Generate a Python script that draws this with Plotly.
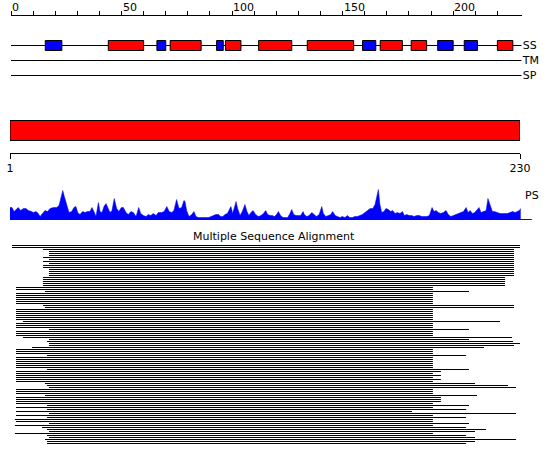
import plotly.graph_objects as go

# ---------------- data ----------------
seq_len = 230
ruler_ticks = list(range(0, 230, 10))
ruler_labels = [0, 50, 100, 150, 200]
tracks = ["SS", "TM", "SP"]

helix_start = [44, 72, 97, 112, 134, 167, 181, 220]
helix_end = [60, 86, 104, 127, 155, 177, 188, 227]
strand_start = [15.5, 66, 93, 159, 193, 205]
strand_end = [23, 70, 96, 165, 200, 211]

domain_start = [1]
domain_end = [230]

ps_res = [1.0, 1.9, 2.8, 4.0, 4.7, 5.8, 7.0, 8.2, 9.2, 10.7, 11.5, 12.7, 13.7, 14.5, 15.7, 16.7, 17.8, 19.0,
          20.5, 22.0, 23.0, 23.9, 24.7, 25.4, 26.5, 27.5, 28.7, 29.7, 30.6, 31.4, 32.4, 33.6, 34.7, 35.7,
          36.9, 37.8, 38.7, 39.6, 40.7, 41.4, 42.3, 43.2, 44.1, 45.0, 45.9, 46.8, 47.8, 48.9, 49.9, 51.0,
          51.9, 53.1, 54.1, 55.3, 56.4, 57.6, 58.8, 59.7, 60.9, 62.1, 63.1, 64.2, 65.3, 66.6, 67.6, 69.1,
          70.2, 71.4, 72.5, 73.6, 74.6, 75.8, 76.9, 78.1, 79.1,
          79.6, 80.3, 81.4, 82.6, 83.6, 84.5, 85.6, 86.8, 87.8, 88.9, 90.1, 91.3, 92.3, 93.4, 94.6, 95.6,
          96.6, 97.5, 98.6, 99.5, 100.2, 101.0, 101.7, 102.5, 103.2, 104.3, 105.3, 106.5, 107.4, 108.3,
          109.2, 110.1, 111.3, 112.5, 113.7, 114.8, 115.8, 116.7, 117.8, 118.8, 119.7, 120.7, 121.5, 122.5,
          123.6, 124.6, 125.7, 126.7, 127.5, 128.4, 129.4, 130.5, 131.5, 132.6, 133.2, 134.2, 135.3, 136.5,
          137.5, 138.6, 139.8, 141.0, 141.7, 142.8, 144.0, 145.0, 145.9, 147.0, 148.0, 149.2, 150.2, 151.4,
          152.5, 153.5, 154.7, 155.9, 157.0, 158.2, 159.2, 160.4, 161.6,
          162.7, 163.9, 164.9, 165.6, 166.4, 167.1, 167.9, 168.9, 169.8, 170.9, 171.9, 172.8, 173.9, 174.9,
          176.1, 177.2, 178.1, 179.1, 180.3, 181.4, 182.4, 183.6, 184.8, 185.9, 186.9, 188.1, 189.3, 190.5,
          191.4, 192.3, 193.3, 194.4, 195.6, 196.8, 197.8, 198.9, 200.1, 201.3, 202.3, 203.4, 204.6, 205.8,
          206.7, 207.6, 208.6, 209.7, 210.6, 211.6, 212.5, 213.6, 214.8, 215.6, 216.5, 217.6, 218.6, 219.8,
          221.0, 222.2, 223.3, 224.3, 225.5, 226.7, 227.8, 228.8, 229.7, 230.3]
ps_val = [12, 12, 8, 10, 12, 9, 11, 11, 9, 8, 7, 8, 6, 3, 7, 9, 8, 11,
          12, 12, 14, 22, 29, 23, 14, 7, 8, 12, 13, 7, 5, 8, 7, 8,
          8, 12, 8, 3, 17, 8, 7, 13, 16, 11, 7, 9, 21, 11, 8, 12,
          12, 7, 5, 8, 7, 3, 12, 6, 4, 3, 5, 4, 6, 4, 7, 7,
          8, 13, 8, 7, 9, 20, 11, 12, 19,
          18, 9, 3, 5, 8, 3, 2, 2, 2, 2, 2, 3, 4, 5, 5, 3,
          3, 5, 6, 11, 13, 6, 13, 18, 11, 4, 8, 15, 8, 4,
          7, 9, 5, 3, 4, 6, 9, 5, 4, 4, 3, 5, 8, 4,
          2, 2, 2, 6, 10, 5, 4, 4, 4, 8, 5, 3, 4, 7,
          5, 3, 5, 13, 6, 3, 4, 5, 8, 4, 3, 2, 3, 2,
          4, 2, 2, 3, 3, 4, 5, 7, 9,
          11, 11, 15, 22, 30, 15, 7, 8, 11, 10, 8, 9, 6, 7,
          6, 8, 4, 5, 4, 4, 3, 4, 4, 3, 3, 3, 4, 12,
          8, 9, 7, 6, 7, 9, 5, 3, 4, 5, 6, 7, 8, 12,
          7, 9, 6, 7, 10, 12, 7, 8, 9, 21, 14, 8, 8, 7,
          6, 6, 6, 6, 7, 8, 7, 8, 9, 11]
ps_axis_end = 235.3

msa_start = [
    1.9, 1.9, 15.8, 18.5, 18.5, 18.5, 15.8, 18.5, 15.8, 18.5,
    15.8, 15.8, 18.5, 18.5, 18.5, 18.5, 15.8, 15.8, 15.8, 15.8,
    15.8, 3.7, 3.7, 16.7, 3.7, 3.7, 3.7, 3.7, 3.7, 3.7,
    15.8, 16.7, 3.7, 3.7, 3.7, 3.7, 3.7, 3.7, 6.8, 3.7,
    3.7, 3.7, 18.5, 3.7, 3.7, 3.7, 6.8, 18.5, 17.6, 18.5,
    18.5, 10.9, 3.7, 3.7, 3.7, 17.6, 3.7, 3.7, 3.7, 3.7,
    3.7, 3.7, 17.6, 3.7, 3.7, 3.7, 3.7, 3.7, 3.7, 16.7,
    17.6, 18.5, 3.7, 3.7, 3.7, 16.7, 3.7, 3.7, 3.7, 3.7,
    17.6, 3.7, 17.6, 3.7, 18.5, 3.7, 17.6, 3.2, 3.7, 18.5,
    3.2, 15.4, 17.6, 18.5, 3.2, 17.6, 18.5, 16.7, 17.6, 17.6]
msa_end = [
    230.0, 230.0, 227.3, 227.3, 227.3, 227.3, 227.3, 227.3, 227.3, 227.3,
    227.3, 227.3, 227.3, 227.3, 227.3, 227.3, 223.3, 223.3, 223.3, 223.3,
    223.3, 190.9, 190.9, 207.1, 190.9, 190.9, 190.9, 190.9, 190.9, 190.9,
    227.3, 227.3, 190.9, 190.9, 190.9, 190.9, 190.9, 190.9, 221.0, 190.9,
    190.9, 190.9, 207.1, 190.9, 190.9, 190.9, 226.4, 207.1, 226.9, 230.0,
    227.3, 213.8, 190.9, 190.9, 190.9, 205.8, 190.9, 190.9, 190.9, 190.9,
    190.9, 190.9, 207.1, 194.5, 190.9, 194.5, 190.9, 194.5, 190.9, 209.8,
    224.6, 228.2, 190.9, 190.9, 190.9, 210.7, 194.5, 194.5, 194.5, 190.9,
    207.1, 190.9, 205.8, 181.5, 228.2, 190.9, 205.8, 190.9, 190.9, 207.1,
    190.9, 205.8, 214.7, 209.8, 190.9, 205.8, 209.8, 228.2, 209.8, 205.8]

# ---------------- layout helpers ----------------
W, H = 550, 465
FONT = "DejaVu Sans"


def py(px):
    return 1 - px / H


fig = go.Figure()

# --- SS / TM / SP tracks ---
for i, t in enumerate(tracks):
    fig.add_shape(type="line", xref="x", yref="y", x0=0, x1=seq_len + 1, y0=i, y1=i,
                  line=dict(color="black", width=1), layer="below")

fig.add_trace(go.Bar(orientation="h", y=[0] * len(helix_start), base=helix_start,
                     x=[e - s for s, e in zip(helix_start, helix_end)], width=0.667,
                     marker=dict(color="#ff0000", line=dict(color="black", width=1)),
                     xaxis="x", yaxis="y"))
fig.add_trace(go.Bar(orientation="h", y=[0] * len(strand_start), base=strand_start,
                     x=[e - s for s, e in zip(strand_start, strand_end)], width=0.667,
                     marker=dict(color="#0000ff", line=dict(color="black", width=1)),
                     xaxis="x", yaxis="y"))

# --- domain bar ---
fig.add_trace(go.Bar(orientation="h", y=[0], base=domain_start,
                     x=[e - s for s, e in zip(domain_start, domain_end)], width=1,
                     marker=dict(color="#ff0000", line=dict(color="black", width=1)),
                     xaxis="x2", yaxis="y2"))

# --- PS profile ---
fig.add_trace(go.Scatter(x=[ps_res[0], ps_axis_end], y=[0, 0], mode="lines",
                         line=dict(color="#0000ff", width=1), xaxis="x3", yaxis="y3"))
fig.add_trace(go.Scatter(x=ps_res, y=ps_val, mode="lines", fill="tozeroy",
                         fillcolor="#0000ff", line=dict(color="#0000ff", width=0.5),
                         xaxis="x3", yaxis="y3"))

# --- MSA ---
fig.add_trace(go.Bar(orientation="h", y=list(range(len(msa_start))), base=msa_start,
                     x=[e - s for s, e in zip(msa_start, msa_end)], width=0.5,
                     marker=dict(color="black", line=dict(width=0)),
                     xaxis="x4", yaxis="y4"))

# bottom scale: residue 1 at 10px, 230 at 520px
ppr = 510 / 229
r0 = 1 - 10 / ppr
r1 = r0 + W / ppr

annotations = []
for v in ruler_labels:
    annotations.append(dict(x=v, y=py(16), xref="x", yref="paper", text=str(v),
                            showarrow=False, xanchor="left", yanchor="bottom",
                            font=dict(size=11, family=FONT, color="black"), borderpad=0, yshift=1))
annotations.append(dict(x=seq_len + 1.5, y=24, xref="x3", yref="y3", text="PS", showarrow=False,
                        xanchor="left", yanchor="middle",
                        font=dict(size=11, family=FONT, color="black")))
annotations.append(dict(x=274 / W, y=py(236), xref="paper", yref="paper",
                        text="Multiple Sequence Alignment", showarrow=False,
                        xanchor="center", yanchor="middle",
                        font=dict(size=11, family=FONT, color="black")))

hidden = dict(visible=False, showgrid=False, zeroline=False, fixedrange=True, automargin=False)

fig.update_layout(
    template="none",
    width=W, height=H, margin=dict(l=0, r=0, t=0, b=0, pad=0, autoexpand=False),
    paper_bgcolor="white", plot_bgcolor="rgba(0,0,0,0)",
    showlegend=False, barmode="overlay", hovermode=False,
    font=dict(family=FONT, size=11, color="black"),
    xaxis=dict(domain=[11 / W, 521.7 / W], range=[0, seq_len + 1], anchor="y", side="top",
               showline=True, linecolor="black", linewidth=1, ticks="outside", ticklen=4,
               tickcolor="black", tickwidth=1, tickvals=ruler_ticks, showticklabels=False,
               showgrid=False, zeroline=False, fixedrange=True, automargin=False),
    yaxis=dict(domain=[py(91), py(16)], range=[3.0333, -1.9667], anchor="x", side="right",
               tickvals=[0, 1, 2], ticktext=tracks, ticks="", showline=False,
               showgrid=False, zeroline=False, fixedrange=True, automargin=False,
               tickfont=dict(size=11, family=FONT, color="black")),
    xaxis2=dict(domain=[10 / W, 520 / W], range=[1, seq_len], anchor="y2", side="bottom",
                showline=True, linecolor="black", linewidth=1, ticks="outside", ticklen=5,
                tickcolor="black", tickvals=[1, seq_len], ticktext=["1", str(seq_len)],
                tickfont=dict(size=11, family=FONT, color="black"),
                showgrid=False, zeroline=False, fixedrange=True, automargin=False),
    yaxis2=dict(domain=[py(153), py(110)], range=[-1.125, 1.025], anchor="x2", **hidden),
    xaxis3=dict(domain=[0, 1], range=[r0, r1], anchor="y3", **hidden),
    yaxis3=dict(domain=[py(220), py(180)], range=[-0.5, 39.5], anchor="x3", **hidden),
    xaxis4=dict(domain=[0, 1], range=[r0, r1], anchor="y4", **hidden),
    yaxis4=dict(domain=[py(445), py(243)], range=[99.75, -1.25], anchor="x4", **hidden),
    annotations=annotations,
)

fig.write_html("out.html", config={"displayModeBar": False},
               post_script="document.body.style.margin='0';document.body.style.overflow='hidden';")
